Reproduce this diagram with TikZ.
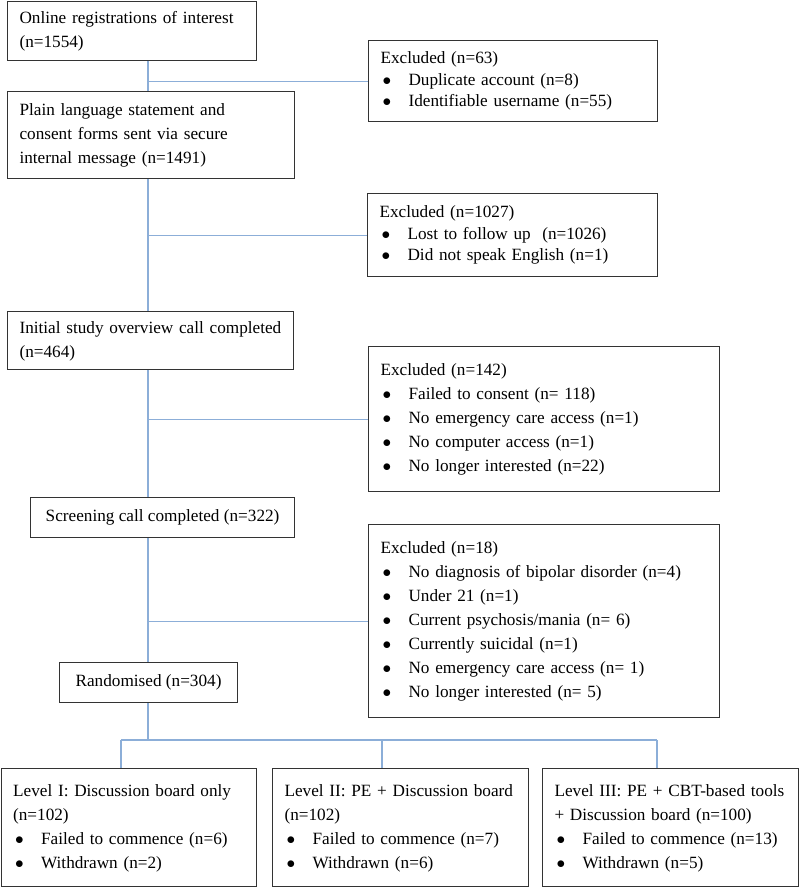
\documentclass[tikz,border=0pt]{standalone}
\usepackage{fontspec}
\setmainfont{Liberation Serif}
\definecolor{lineblue}{RGB}{140,174,216}
\newcommand{\bul}[1]{\makebox[28pt][l]{\hspace{2pt}$\bullet$}#1}
\newcommand{\rows}[1]{\begin{tabular}{@{}l@{}}#1\end{tabular}}
\begin{document}
\begin{tikzpicture}[x=1pt,y=-1pt,
box/.style={draw=black!80, line width=1.1pt, anchor=north west, inner xsep=12pt, inner ysep=0pt, align=left, font=\fontsize{17.2}{24}\selectfont},
tight/.style={font=\fontsize{17.2}{21.5}\selectfont},
link/.style={draw=lineblue, line width=1.1pt}]
\useasboundingbox (0,0) rectangle (800,887);
\node[box, text width=225pt, minimum height=59pt] (reg) at (7,0.6) {\rows{Online registrations of interest\\(n=1554)}};
\node[box, text width=263pt, minimum height=87pt] (plain) at (7,91) {\rows{Plain language statement and\\consent forms sent via secure\\internal message (n=1491)}};
\node[box, tight, text width=265pt, minimum height=81pt] (ex1) at (368,40) {\rows{Excluded (n=63)\\\bul{Duplicate account (n=8)}\\\bul{Identifiable username (n=55)}}};
\node[box, tight, text width=266pt, minimum height=83pt] (ex2) at (367,193) {\rows{Excluded (n=1027)\\\bul{Lost to follow up\ \ (n=1026)}\\\bul{Did not speak English (n=1)}}};
\node[box, text width=262pt, minimum height=58pt] (init) at (7,311) {\rows{Initial study overview call completed\\(n=464)}};
\node[box, text width=327pt, minimum height=145pt] (ex3) at (368,346) {\rows{Excluded (n=142)\\\bul{Failed to consent (n= 118)}\\\bul{No emergency care access (n=1)}\\\bul{No computer access (n=1)}\\\bul{No longer interested (n=22)}}};
\node[box, minimum width=264pt, minimum height=40pt] (screen) at (30,497) {Screening call completed (n=322)};
\node[box, text width=327pt, minimum height=193pt] (ex4) at (368,524) {\rows{Excluded (n=18)\\\bul{No diagnosis of bipolar disorder (n=4)}\\\bul{Under 21 (n=1)}\\\bul{Current psychosis/mania (n= 6)}\\\bul{Currently suicidal (n=1)}\\\bul{No emergency care access (n= 1)}\\\bul{No longer interested (n= 5)}}};
\node[box, minimum width=178pt, minimum height=40pt] (rand) at (59,662) {Randomised (n=304)};
\node[box, text width=231pt, minimum height=118pt] (lvl1) at (0.6,768) {\rows{Level I: Discussion board only\\(n=102)\\\bul{Failed to commence (n=6)}\\\bul{Withdrawn (n=2)}}};
\node[box, text width=232pt, minimum height=118pt] (lvl2) at (272,768) {\rows{Level II: PE + Discussion board\\(n=102)\\\bul{Failed to commence (n=7)}\\\bul{Withdrawn (n=6)}}};
\node[box, text width=232pt, minimum height=118pt] (lvl3) at (542,768) {\rows{Level III: PE + CBT-based tools\\+ Discussion board (n=100)\\\bul{Failed to commence (n=13)}\\\bul{Withdrawn (n=5)}}};
\coordinate (trunk) at (148,0);
\draw[link] (reg.south -| trunk) -- (plain.north -| trunk);
\draw[link] (plain.south -| trunk) -- (init.north -| trunk);
\draw[link] (init.south -| trunk) -- (screen.north -| trunk);
\draw[link] (screen.south -| trunk) -- (rand.north -| trunk);
\foreach \e in {ex1,ex2,ex3,ex4}
\draw[link] (\e.west -| trunk) -- (\e.west);
\coordinate (d1) at (121,740);
\coordinate (d2) at (382,740);
\coordinate (d3) at (657,740);
\draw[link] (rand.south -| trunk) -- (d1 -| trunk);
\draw[link] (d1) -- (d3);
\foreach \d/\l in {d1/lvl1,d2/lvl2,d3/lvl3}
\draw[link] (\d) -- (\d |- \l.north);
\end{tikzpicture}
\end{document}
